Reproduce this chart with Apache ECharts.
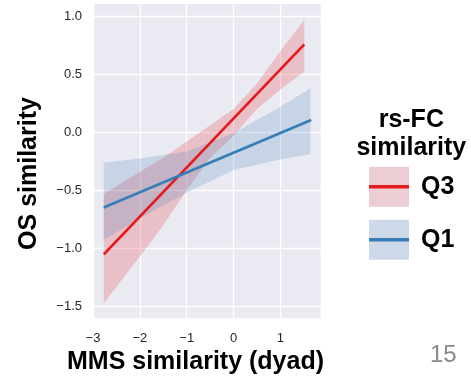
<!DOCTYPE html>
<html>
<head>
<meta charset="utf-8">
<script src="https://cdn.jsdelivr.net/npm/echarts@6/dist/echarts.min.js"></script>
<style>
html,body{margin:0;padding:0;background:#fff;}
#chart{width:471px;height:376px;}
</style>
</head>
<body>
<div id="chart"></div>
<script>
// ---- data ----
const seriesNames = ['Q3', 'Q1'];
const xTicks = [-3, -2, -1, 0, 1];
const yTicks = [-1.5, -1.0, -0.5, 0.0, 0.5, 1.0];

// fitted regression lines (endpoints)
const q3Line = [[-2.77, -1.052], [1.51, 0.758]];
const q1Line = [[-2.77, -0.647], [1.657, 0.106]];

// confidence bands: x, upper, lower
const q3BandX     = [-2.77, -2.0, -1.5, -1.0, -0.5, 0.0, 0.5, 1.0, 1.51];
const q3BandUpper = [-0.53, -0.34, -0.22, -0.08, 0.06, 0.20, 0.42, 0.70, 0.968];
const q3BandLower = [-1.474, -1.07, -0.80, -0.50, -0.22, -0.03, 0.20, 0.37, 0.522];

const q1BandX     = [-2.77, -2.0, -1.0, 0.0, 1.0, 1.64];
const q1BandUpper = [-0.262, -0.225, -0.165, -0.009, 0.22, 0.379];
const q1BandLower = [-0.928, -0.74, -0.52, -0.325, -0.235, -0.187];

const RED = '#E41A1C';
const BLUE = '#377EB8';
const FONT = '"Liberation Sans", Arial, Helvetica, sans-serif';

function makeBand(name, xs, up, lo, color) {
  const data = xs.map((x, i) => [x, up[i], lo[i]]);
  return {
    type: 'custom',
    name: name + ' band',
    silent: true,
    z: 1,
    data: data,
    encode: { x: 0, y: [1, 2] },
    renderItem: function (params, api) {
      if (params.dataIndex !== 0) return null;
      const pts = [];
      for (let i = 0; i < data.length; i++) pts.push(api.coord([data[i][0], data[i][1]]));
      for (let i = data.length - 1; i >= 0; i--) pts.push(api.coord([data[i][0], data[i][2]]));
      return {
        type: 'polygon',
        shape: { points: pts },
        style: { fill: color, opacity: 0.2 }
      };
    }
  };
}

const minus = s => String(s).replace('-', '\u2212');

const chart = echarts.init(document.getElementById('chart'), null, { renderer: 'canvas' });
const option = {
  animation: false,
  backgroundColor: '#ffffff',
  textStyle: { fontFamily: FONT },
  grid: {
    left: 93, right: 150.3, top: 4, bottom: 57.7,
    show: true, backgroundColor: '#EAEAF2', borderWidth: 0
  },
  xAxis: {
    type: 'value', min: -3, max: 1.86,
    axisLine: { show: false },
    axisTick: { show: false, customValues: xTicks },
    axisLabel: {
      customValues: xTicks, margin: 14, fontSize: 13, color: '#262626', fontFamily: FONT,
      formatter: v => minus(Math.round(v))
    },
    splitLine: { show: true, lineStyle: { color: '#ffffff', width: 1.3 } }
  },
  yAxis: {
    type: 'value', min: -1.603, max: 1.106,
    axisLine: { show: false },
    axisTick: { show: false, customValues: yTicks },
    axisLabel: {
      customValues: yTicks, margin: 11, fontSize: 13, color: '#262626', fontFamily: FONT,
      formatter: v => minus(v.toFixed(1))
    },
    splitLine: { show: true, lineStyle: { color: '#ffffff', width: 1.3 } }
  },
  legend: {
    orient: 'vertical', left: 369, top: 166.7, padding: 0,
    itemWidth: 40, itemHeight: 40, itemGap: 13, icon: 'rect',
    itemStyle: { borderWidth: 0 },
    textStyle: { fontSize: 25, fontWeight: 'bold', color: '#000', fontFamily: FONT, padding: [0, 0, 0, 7] },
    data: [
      { name: seriesNames[0], itemStyle: { color: '#EDCDD4', borderWidth: 0 } },
      { name: seriesNames[1], itemStyle: { color: '#CEDAE9', borderWidth: 0 } }
    ],
    selectedMode: false
  },
  graphic: [
    { type: 'rect', left: 369, top: 185, z: 100, shape: { width: 40, height: 3.4 }, style: { fill: RED } },
    { type: 'rect', left: 369, top: 238, z: 100, shape: { width: 40, height: 3.4 }, style: { fill: BLUE } },
    { type: 'text', x: 411.3, y: 134.4, z: 100,
      style: { text: 'rs-FC\nsimilarity', font: 'bold 25px ' + FONT, lineHeight: 28, fill: '#000', align: 'center', verticalAlign: 'middle' } },
    { type: 'text', x: 195.5, y: 362.5, z: 100,
      style: { text: 'MMS similarity (dyad)', font: 'bold 25px ' + FONT, fill: '#000', align: 'center', verticalAlign: 'middle' } },
    { type: 'text', x: 29, y: 173.5, rotation: Math.PI / 2, z: 100,
      style: { text: 'OS similarity', font: 'bold 25px ' + FONT, fill: '#000', align: 'center', verticalAlign: 'middle' } },
    { type: 'text', x: 430, y: 355, z: 100,
      style: { text: '15', font: '24px ' + FONT, fill: '#8a8a8a', align: 'left', verticalAlign: 'middle' } }
  ],
  series: [
    makeBand(seriesNames[0], q3BandX, q3BandUpper, q3BandLower, RED),
    makeBand(seriesNames[1], q1BandX, q1BandUpper, q1BandLower, BLUE),
    {
      type: 'line', name: seriesNames[0], data: q3Line, z: 3,
      showSymbol: false, symbol: 'none',
      lineStyle: { color: RED, width: 2.7 }, itemStyle: { color: RED }
    },
    {
      type: 'line', name: seriesNames[1], data: q1Line, z: 3,
      showSymbol: false, symbol: 'none',
      lineStyle: { color: BLUE, width: 2.7 }, itemStyle: { color: BLUE }
    }
  ]
};
chart.setOption(option);
</script>
</body>
</html>
